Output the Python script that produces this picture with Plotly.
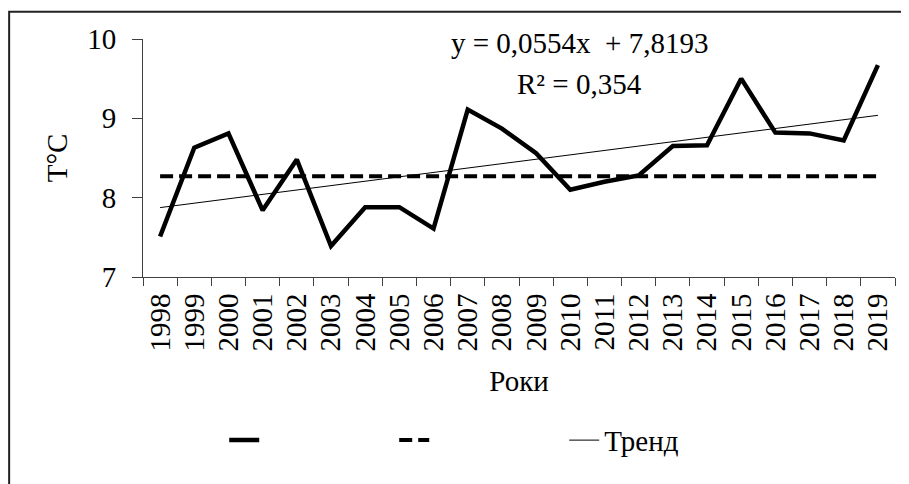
import plotly.graph_objects as go

years = ["1998", "1999", "2000", "2001", "2002", "2003", "2004", "2005", "2006", "2007", "2008",
         "2009", "2010", "2011", "2012", "2013", "2014", "2015", "2016", "2017", "2018", "2019"]
temperature = [7.51, 8.63, 8.81, 7.84, 8.48, 7.39, 7.88, 7.88, 7.61, 9.11, 8.87,
               8.56, 8.10, 8.20, 8.28, 8.65, 8.66, 9.50, 8.82, 8.81, 8.72, 9.67]
norm = [8.27, 8.27, 8.27, 8.27, 8.27, 8.27, 8.27, 8.27, 8.27, 8.27, 8.27,
        8.27, 8.27, 8.27, 8.27, 8.27, 8.27, 8.27, 8.27, 8.27, 8.27, 8.27]
trend_years = ["1998", "2019"]
trend_values = [7.875, 9.038]
equation_text = "y = 0,0554x  + 7,8193"
r2_text = "R² = 0,354"

FONT = "Liberation Serif, Times New Roman, serif"
FS = 29
AXIS_COLOR = "#404040"

fig = go.Figure()
fig.add_trace(go.Scatter(x=years, y=temperature, mode="lines", name="",
                         line=dict(color="black", width=4.5)))
fig.add_trace(go.Scatter(x=years, y=norm, mode="lines", name="",
                         line=dict(color="black", width=4, dash="13px,6px")))
fig.add_trace(go.Scatter(x=trend_years, y=trend_values, mode="lines", name="Тренд",
                         line=dict(color="black", width=1)))

fig.add_annotation(x=0.58, y=9.95, xref="paper", yref="y", text=equation_text,
                   showarrow=False, font=dict(family=FONT, size=FS, color="black"),
                   xanchor="center", yanchor="middle")
fig.add_annotation(x=0.58, y=9.43, xref="paper", yref="y", text=r2_text,
                   showarrow=False, font=dict(family=FONT, size=FS, color="black"),
                   xanchor="center", yanchor="middle")

# outer frame
fig.add_shape(type="rect", xref="paper", yref="paper",
              x0=-0.178, x1=1.2, y0=-1.2, y1=1.115,
              line=dict(color="#222222", width=2), fillcolor="rgba(0,0,0,0)", layer="below")

fig.update_layout(
    width=901, height=476,
    margin=dict(l=135, r=14, t=31, b=207, autoexpand=False),
    paper_bgcolor="white", plot_bgcolor="white",
    font=dict(family=FONT, size=FS, color="black"),
    showlegend=True,
    legend=dict(orientation="h", x=0.108, xanchor="left", y=-0.686, yanchor="middle",
                entrywidth=125, entrywidthmode="pixels", itemwidth=30,
                font=dict(family=FONT, size=FS, color="black"),
                bgcolor="rgba(0,0,0,0)", tracegroupgap=0),
    xaxis=dict(type="category", range=[-0.5, 21.5], tickson="boundaries",
               tickmode="array", tickvals=years, ticktext=years,
               ticks="outside", ticklen=8, tickcolor=AXIS_COLOR, showline=True,
               linecolor=AXIS_COLOR, linewidth=1, showgrid=False, zeroline=False,
               tickangle=-90, ticklabelstandoff=4,
               tickfont=dict(family=FONT, size=FS, color="black"),
               title=dict(text="Роки", standoff=20,
                          font=dict(family=FONT, size=FS, color="black")),
               automargin=False),
    yaxis=dict(range=[7, 10], dtick=1, ticks="outside", ticklen=10, tickcolor=AXIS_COLOR,
               showline=True, linecolor=AXIS_COLOR, linewidth=1, showgrid=False,
               zeroline=False, ticklabelstandoff=10,
               tickfont=dict(family=FONT, size=FS, color="black"),
               title=dict(text="T°C", standoff=11,
                          font=dict(family=FONT, size=FS, color="black")),
               automargin=False),
)

fig.write_html("out.html")
